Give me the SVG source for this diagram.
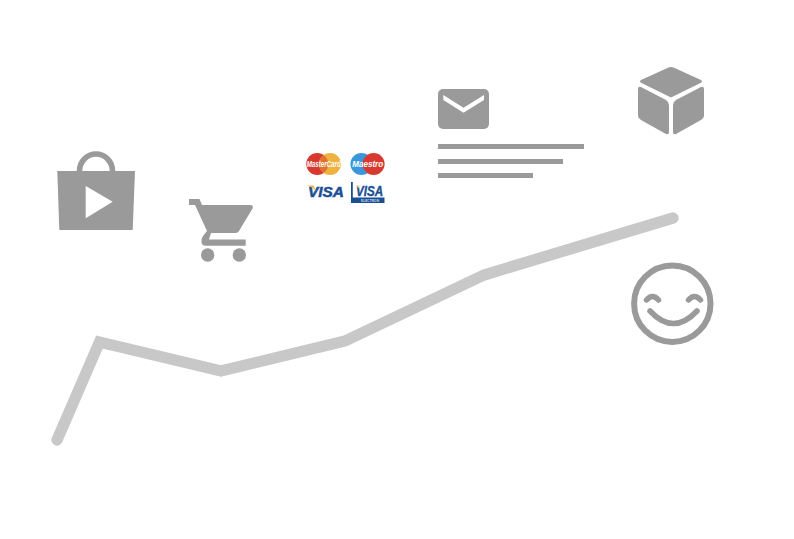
<svg xmlns="http://www.w3.org/2000/svg" width="794" height="539" viewBox="0 0 794 539">
<style>
.g{fill:#9a9a9a}
.w{fill:#fff}
.s{fill:none;stroke:#9a9a9a;stroke-linecap:round;stroke-linejoin:round}
.card{font-family:"Liberation Sans",Arial,sans-serif;font-weight:700;font-style:italic}
</style>
<rect width="794" height="539" fill="#fff"/>
<g id="connectors">
<polyline points="57,440 99.500,342 221,371 345,341 484,275 673,218" fill="none" stroke="#c8c8c8" stroke-width="11.300" stroke-linecap="round" stroke-linejoin="miter"/>
</g>
<g id="bag">
<path class="g" d="M57.300,171 H135 L132.700,230 H59.300 Z"/>
<path d="M79.500,171 A16.500,17 0 0 1 112.500,171" fill="none" stroke="#9a9a9a" stroke-width="5.600"/>
<polygon class="w" points="85.700,186 112.700,201.800 85.700,218.300"/>
</g>
<g id="cart">
<path class="g" d="M189,199 H199.500 L202,205 H250 Q254,205 252.500,208.500 L239,231 Q238,233 234,233 H211 L209,239.500 H245.700 V245.700 H206 Q201,245.700 201.500,241 Q201.500,238.500 203,236 L207,231 L195,205 H189 Z"/>
<circle class="g" cx="207.700" cy="255" r="6.700"/>
<circle class="g" cx="239.300" cy="255" r="6.700"/>
</g>
<g id="cards">
<circle cx="317.200" cy="164" r="11" fill="#d8392f"/>
<circle cx="330" cy="164" r="11" fill="#efb23f"/>
<path d="M323.600,155 A11,11 0 0 1 323.600,173 A11,11 0 0 1 323.600,155 Z" fill="#e2702f"/>
<text class="card" x="323.700" y="167" font-size="9" fill="#fff" text-anchor="middle" textLength="34" lengthAdjust="spacingAndGlyphs">MasterCard</text>
<circle cx="361.400" cy="164" r="11" fill="#3b97dc"/>
<circle cx="373.600" cy="164" r="11" fill="#d8392f"/>
<text class="card" x="367.700" y="167.300" font-size="9.500" fill="#fff" text-anchor="middle" textLength="31" lengthAdjust="spacingAndGlyphs">Maestro</text>
<text class="card" x="326" y="197" font-size="14" fill="#1a4f96" stroke="#1a4f96" stroke-width=".5" text-anchor="middle" textLength="36" lengthAdjust="spacingAndGlyphs">VISA</text>
<path d="M307,185.500 H313.500 L316,191 Q312.500,187 307,185.500 Z" fill="#efb23f"/>
<path d="M351,182 H352.800 V197.500 H384.500 V203 H351 Z" fill="#1a4f96"/>
<text class="card" x="369.500" y="196" font-size="14" fill="#1a4f96" stroke="#1a4f96" stroke-width=".4" text-anchor="middle" textLength="27" lengthAdjust="spacingAndGlyphs">VISA</text>
<path d="M355,185.500 H359 L360,189 Q358,186.500 355,185.500 Z" fill="#efd9a0"/>
<text x="370" y="202" font-size="4" font-family="'Liberation Sans',Arial,sans-serif" font-weight="700" fill="#c9d6e8" text-anchor="middle" textLength="18" lengthAdjust="spacingAndGlyphs">ELECTRON</text>
</g>
<g id="mail">
<rect class="g" x="438" y="89" width="51" height="40" rx="5"/>
<polygon class="w" points="443.300,95 463.500,107.700 484,95 484,100 463.500,112.700 443.300,100"/>
<rect class="g" x="438" y="144" width="146" height="5"/>
<rect class="g" x="438" y="159" width="125" height="5"/>
<rect class="g" x="438" y="173" width="95" height="5"/>
</g>
<g id="box">
<path class="g" d="M668.500,67.500 Q671,66.300 673.500,67.500 L701,80 Q703,81.500 701,82.700 L672,97 Q671,97.500 670,97 L641,82.700 Q639,81.500 641,80 Z"/>
<path class="g" d="M638,89 Q638,86 641,87 L666,100 Q669,102 669,105 V132 Q669,135 666,134 L641,120 Q638,118 638,116 Z"/>
<path class="g" d="M704,89 Q704,86 701,87 L676,100 Q673,102 673,105 V132 Q673,135 676,134 L701,120 Q704,118 704,116 Z"/>
</g>
<g id="smile">
<circle cx="672.300" cy="303.700" r="38.200" fill="none" stroke="#9a9a9a" stroke-width="6"/>
<path class="s" stroke-width="5.500" d="M646.500,300 Q652.500,293 658.500,300"/>
<path class="s" stroke-width="5.500" d="M688.500,300 Q694.500,293 700.500,300"/>
<path class="s" stroke-width="5.500" d="M650,311 Q673.500,336 697,311"/>
</g>
</svg>
